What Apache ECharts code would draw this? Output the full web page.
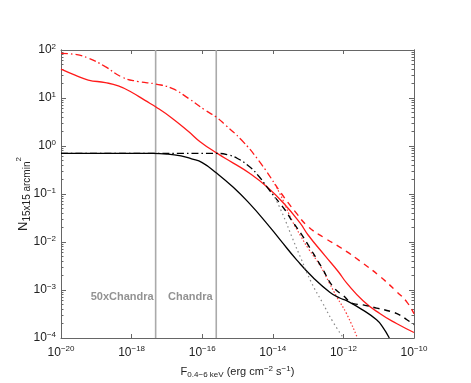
<!DOCTYPE html>
<html>
<head>
<meta charset="utf-8">
<script src="https://cdn.jsdelivr.net/npm/echarts@6/dist/echarts.min.js"></script>
<style>
  html, body { margin: 0; padding: 0; background: #fff; }
  #chart { width: 471px; height: 383px; }
</style>
</head>
<body>
<div id="chart"></div>
<script>
// curves: [flux, N]
const redSolid = [
  [1e-20, 40], [2.5e-20, 30], [5.9e-20, 23.7], [1.8e-19, 20.9], [4.2e-19, 17.8],
  [1e-18, 13.2], [2.4e-18, 8.9], [4.9e-18, 6.5], [1.4e-17, 3.8], [4.1e-17, 2.0],
  [8.7e-17, 1.23], [2.6e-16, 0.71], [7.6e-16, 0.44], [2.2e-15, 0.27], [6.8e-15, 0.141],
  [2.0e-14, 0.065], [5.9e-14, 0.025], [1.0e-13, 0.014], [3.0e-13, 5.2e-3], [7.2e-13, 2.4e-3],
  [1.23e-12, 1.41e-3], [3.6e-12, 6.0e-4], [1.1e-11, 3.2e-4], [3.2e-11, 2.0e-4], [1e-10, 1.3e-4]
];
const redDashDot = [
  [1e-20, 85], [2.5e-20, 81], [5.9e-20, 68], [1.8e-19, 45], [5.2e-19, 27.5],
  [1.55e-18, 22], [4.9e-18, 19.5], [1.4e-17, 15.8], [4.1e-17, 9.8], [1.2e-16, 5.6],
  [2.5e-16, 4.0], [4.5e-16, 2.75], [1.3e-15, 1.33], [3.9e-15, 0.51], [1.15e-14, 0.16]
];
const redDashed = [
  [1.15e-14, 0.16], [2.2e-14, 0.081], [4.3e-14, 0.043], [1.0e-13, 0.021], [3.0e-13, 0.012],
  [8.9e-13, 7.4e-3], [3.6e-12, 3.6e-3], [1.1e-11, 1.9e-3], [3.2e-11, 9.3e-4],
  [6.3e-11, 5.6e-4], [1e-10, 3.2e-4]
];
const redDotted = [
  [1.15e-14, 0.16], [2.0e-14, 0.071], [3.5e-14, 0.028], [6.3e-14, 0.013], [1.0e-13, 7.4e-3],
  [2.2e-13, 3.2e-3], [4.0e-13, 1.4e-3], [6.5e-13, 7.2e-4], [1.23e-12, 3.2e-4], [2.5e-12, 1e-4]
];
const blackSolid = [
  [1e-20, 0.7], [4e-18, 0.7], [1e-17, 0.68], [2.5e-17, 0.62], [5e-17, 0.54],
  [1e-16, 0.45], [2.6e-16, 0.27], [7.6e-16, 0.138], [2.2e-15, 0.063], [6.3e-15, 0.026],
  [1.6e-14, 0.0112], [4.8e-14, 4.2e-3], [1.4e-13, 1.8e-3], [4.2e-13, 8.9e-4], [7.9e-13, 6.8e-4],
  [1.23e-12, 6.0e-4], [3.6e-12, 3.8e-4], [8.7e-12, 2.4e-4], [1.26e-11, 1.74e-4], [2e-11, 1e-4]
];
const blackDashDot = [
  [1e-20, 0.7], [2.5e-16, 0.7], [5.5e-16, 0.65], [1e-15, 0.55], [2.2e-15, 0.37],
  [3.9e-15, 0.24], [6.8e-15, 0.141], [1.15e-14, 0.085]
];
const blackDashed = [
  [1.15e-14, 0.085], [2.2e-14, 0.047], [3.5e-14, 0.0275], [6.3e-14, 0.015], [1.0e-13, 8.7e-3],
  [2.4e-13, 3.0e-3], [5.1e-13, 1.17e-3], [1e-12, 7.6e-4], [1.9e-12, 5.2e-4], [3.6e-12, 4.9e-4],
  [8.7e-12, 4.2e-4], [2.1e-11, 3.6e-4], [4e-11, 3.0e-4], [6.3e-11, 2.4e-4], [1e-10, 1.9e-4]
];
const blackDotted = [
  [1.15e-14, 0.085], [2.0e-14, 0.035], [3.5e-14, 0.0126], [6.3e-14, 4.5e-3],
  [1.26e-13, 1.4e-3], [2.5e-13, 5.6e-4], [5e-13, 2.2e-4], [1e-12, 1e-4]
];

// sensitivity limits and their labels
const limits = [4.8e-18, 2.5e-16];
const limitLabels = [
  { name: '50xChandra', value: [5.4e-19, 7e-4] },
  { name: 'Chandra', value: [4.6e-17, 7e-4] }
];

const yMin = 1e-4, yMax = 100;
const yMajor = [1e-4, 1e-3, 1e-2, 1e-1, 1, 10, 100];
const minorFactors = [2, 3, 4, 5, 6, 7, 8, 9];
const yMinor = [];
yMajor.slice(0, -1).forEach(d => minorFactors.forEach(f => yMinor.push(d * f)));

const FONT = '"Liberation Sans", Arial, sans-serif';
const AXIS_COLOR = '#666';

function expLabel(v) {
  const e = Math.round(Math.log10(v));
  return '10{sup|' + (e < 0 ? '\u2212' + (-e) : e) + '}';
}
const labelRich = {
  sup: { fontSize: 8, verticalAlign: 'top', padding: [0, 0, 7, 0], fontFamily: FONT, color: '#222' }
};

function yAx(position, showLabel, ticks, len) {
  return {
    type: 'log', logBase: 10, min: yMin, max: yMax, position: position,
    interval: 1,
    axisLine: { show: true, lineStyle: { color: AXIS_COLOR, width: 1 } },
    splitLine: { show: false },
    axisTick: { show: true, inside: true, length: len, customValues: ticks, lineStyle: { color: AXIS_COLOR } },
    axisLabel: showLabel ? {
      show: true, customValues: yMajor, formatter: expLabel, rich: labelRich,
      color: '#222', fontSize: 12, fontFamily: FONT, margin: 5
    } : { show: false }
  };
}

function line(data, color, type, width) {
  return {
    type: 'line', data: data, showSymbol: false, symbol: 'none',
    smooth: 0.5, xAxisIndex: 0, yAxisIndex: 0,
    lineStyle: { color: color, type: type, width: width || 1.2 },
    z: 3
  };
}

// vertical gray lines at the limits
const limitSeries = limits.map(v => ({
  type: 'line', data: [[v, yMin], [v, yMax]], showSymbol: false, symbol: 'none',
  silent: true, lineStyle: { color: '#aaa', width: 1.6 }, z: 1
}));

const chart = echarts.init(document.getElementById('chart'), null, { renderer: 'canvas' });
chart.setOption({
  backgroundColor: '#fff',
  animation: false,
  grid: { left: 61, right: 57, top: 50, bottom: 45, outerBoundsMode: 'none' },
  xAxis: [
    {
      type: 'log', logBase: 10, min: 1e-20, max: 1e-10, interval: 2, position: 'bottom',
      axisLine: { show: true, lineStyle: { color: AXIS_COLOR } },
      axisTick: { show: true, inside: true, length: 4, lineStyle: { color: AXIS_COLOR } },
      splitLine: { show: false },
      axisLabel: { formatter: expLabel, rich: labelRich, color: '#222', fontSize: 12, fontFamily: FONT, margin: 7 },
      name: 'F{sub|0.4\u22126 keV} (erg cm{sup|\u22122} s{sup|\u22121})',
      nameLocation: 'middle', nameGap: 27,
      nameTextStyle: {
        color: '#222', fontSize: 11, fontFamily: FONT,
        rich: {
          sub: { fontSize: 8, verticalAlign: 'bottom', padding: [6, 0, 0, 0], fontFamily: FONT, color: '#222' },
          sup: { fontSize: 8, verticalAlign: 'top', padding: [0, 0, 6, 0], fontFamily: FONT, color: '#222' }
        }
      }
    },
    {
      type: 'log', logBase: 10, min: 1e-20, max: 1e-10, interval: 2, position: 'top',
      axisLine: { show: true, lineStyle: { color: AXIS_COLOR } },
      axisTick: { show: true, inside: true, length: 4, lineStyle: { color: AXIS_COLOR } },
      splitLine: { show: false },
      axisLabel: { show: false }
    }
  ],
  yAxis: [
    Object.assign(yAx('left', true, yMajor, 5), {
      name: 'N{sub|15x15 arcmin}{sup|2}',
      nameLocation: 'middle', nameGap: 29, nameRotate: 90, nameMoveOverlap: false,
      nameTextStyle: {
        color: '#222', fontSize: 13, fontFamily: FONT,
        rich: {
          sub: { fontSize: 10, verticalAlign: 'bottom', padding: [7, 0, 0, 0], fontFamily: FONT, color: '#222' },
          sup: { fontSize: 8, verticalAlign: 'top', padding: [0, 0, 4, 0], fontFamily: FONT, color: '#222' }
        }
      }
    }),
    yAx('left', false, yMinor, 2.5),
    yAx('right', false, yMajor, 5),
    yAx('right', false, yMinor, 2.5)
  ],
  series: limitSeries.concat([
    {
      type: 'scatter', data: limitLabels, symbolSize: 0, silent: true,
      label: {
        show: true, position: 'inside', formatter: p => p.name,
        color: '#777', fontWeight: 'bold', fontSize: 11, fontFamily: FONT
      }
    },
    line(redSolid, '#ff1a1a', 'solid', 1.3),
    line(redDashDot, '#ff1a1a', [7, 3, 1.5, 3], 1.3),
    line(redDashed, '#ff1a1a', [6, 5], 1.4),
    line(redDotted, '#ff3a3a', [1.5, 2], 1.2),
    line(blackSolid, '#000', 'solid', 1.3),
    line(blackDashDot, '#000', [7, 3, 1.5, 3], 1.3),
    line(blackDashed, '#000', [6, 5], 1.4),
    line(blackDotted, '#888', [1.5, 3], 1.2)
  ])
});
</script>
</body>
</html>
